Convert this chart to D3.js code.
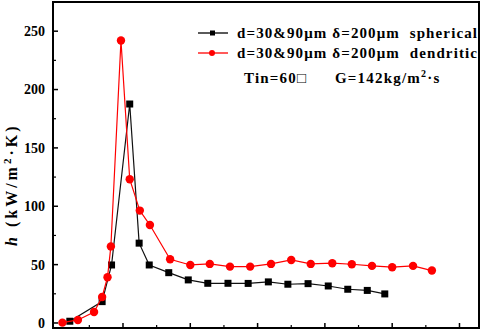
<!DOCTYPE html>
<html>
<head>
<meta charset="utf-8">
<script src="https://cdn.jsdelivr.net/npm/d3@7"></script>
<style>
  body { margin: 0; background: #fff; }
  text { font-family: "Times New Roman", "Liberation Serif", serif; font-weight: bold; }
</style>
</head>
<body>
<svg id="chart" width="484" height="332"></svg>
<script>
// spherical (black squares)
const sphX = [0.21, 0.69, 0.83, 1.10, 1.24, 1.39, 1.68, 1.97, 2.26, 2.56, 2.86, 3.16, 3.45, 3.75, 4.05, 4.34, 4.63, 4.89];
const sphH = [1.5, 18.3, 49.7, 187.6, 68.4, 49.7, 43.1, 36.9, 34.0, 34.0, 33.9, 35.2, 33.2, 33.7, 31.7, 28.9, 27.9, 24.9];

// dendritic (red circles)
const denX = [0.10, 0.33, 0.57, 0.69, 0.77, 0.82, 0.97, 1.10, 1.25, 1.40, 1.70, 2.00, 2.29, 2.59, 2.89, 3.20, 3.50, 3.79, 4.11, 4.40, 4.70, 5.00, 5.31, 5.59];
const denH = [0.3, 2.6, 9.4, 22.3, 39.2, 65.6, 242, 123.2, 96.3, 83.9, 54.6, 49.7, 50.6, 48.3, 48.3, 50.6, 54.0, 50.6, 51.2, 50.3, 48.9, 47.8, 48.9, 44.9];

const yTicks = [0, 50, 100, 150, 200, 250];
const legendLabels = [
  'd=30&90\u03bcm \u03b4=200\u03bcm  spherical',
  'd=30&90\u03bcm \u03b4=200\u03bcm  dendritic'
];

const svg = d3.select('#chart');
const m = { left: 53, right: 479, top: 2, bottom: 328 };

const x = d3.scaleLinear().domain([-0.04, 6.29]).range([m.left, m.right]);
const y = d3.scaleLinear().domain([-4.3, 275]).range([m.bottom, m.top]);

// frame
svg.append('rect')
  .attr('x', m.left).attr('y', m.top)
  .attr('width', m.right - m.left).attr('height', m.bottom - m.top)
  .attr('fill', 'none').attr('stroke', '#000').attr('stroke-width', 2);

// y ticks (inward)
const yAxis = svg.append('g').attr('transform', `translate(${m.left},0)`);
yAxis.selectAll('line.major').data(yTicks).join('line')
  .attr('class', 'major')
  .attr('x1', 0).attr('x2', 5)
  .attr('y1', d => y(d)).attr('y2', d => y(d))
  .attr('stroke', '#000').attr('stroke-width', 1.5);
yAxis.selectAll('line.minor').data(d3.range(25, 275, 50)).join('line')
  .attr('class', 'minor')
  .attr('x1', 0).attr('x2', 3)
  .attr('y1', d => y(d)).attr('y2', d => y(d))
  .attr('stroke', '#000').attr('stroke-width', 1.2);
yAxis.selectAll('text').data(yTicks).join('text')
  .attr('x', -8).attr('y', d => y(d))
  .attr('dy', '0.35em')
  .attr('text-anchor', 'end')
  .attr('font-size', 14)
  .text(d => d);

// x ticks (inward, labels cut off in the source)
const xAxis = svg.append('g').attr('transform', `translate(0,${m.bottom})`);
xAxis.selectAll('line.major').data(d3.range(1, 7)).join('line')
  .attr('class', 'major')
  .attr('x1', d => x(d)).attr('x2', d => x(d))
  .attr('y1', 0).attr('y2', -5)
  .attr('stroke', '#000').attr('stroke-width', 1.5);
xAxis.selectAll('line.minor').data(d3.range(0.5, 6.3, 1)).join('line')
  .attr('class', 'minor')
  .attr('x1', d => x(d)).attr('x2', d => x(d))
  .attr('y1', 0).attr('y2', -3)
  .attr('stroke', '#000').attr('stroke-width', 1.2);

// y label
const yl = svg.append('text')
  .attr('transform', 'translate(17,246) rotate(-90)')
  .attr('text-anchor', 'start')
  .attr('font-size', 16)
  .attr('letter-spacing', 3);
yl.append('tspan').attr('font-style', 'italic').text('h');
yl.append('tspan').text(' (kW/m');
yl.append('tspan').attr('dy', -6).attr('font-size', 11).text('2');
yl.append('tspan').attr('dy', 6).text('\u00b7K)');

const line = d3.line().x(d => x(d[0])).y(d => y(d[1]));

// spherical series
const sph = d3.zip(sphX, sphH);
svg.append('path').datum(sph)
  .attr('d', line).attr('fill', 'none')
  .attr('stroke', '#111').attr('stroke-width', 1.2);
svg.selectAll('rect.sph').data(sph).join('rect')
  .attr('class', 'sph')
  .attr('x', d => x(d[0]) - 3.5).attr('y', d => y(d[1]) - 3.5)
  .attr('width', 7).attr('height', 7)
  .attr('fill', '#000');

// dendritic series
const den = d3.zip(denX, denH);
svg.append('path').datum(den)
  .attr('d', line).attr('fill', 'none')
  .attr('stroke', '#f00').attr('stroke-width', 1.2);
svg.selectAll('circle.den').data(den).join('circle')
  .attr('class', 'den')
  .attr('cx', d => x(d[0])).attr('cy', d => y(d[1]))
  .attr('r', 4.2)
  .attr('fill', '#f00');

// legend
const lg = svg.append('g');
const legendY = [33, 53];
lg.selectAll('line').data(legendY).join('line')
  .attr('x1', 198).attr('x2', 228)
  .attr('y1', d => d).attr('y2', d => d)
  .attr('stroke', (d, i) => i ? '#f00' : '#000').attr('stroke-width', 1.3);
lg.append('rect').attr('x', 210).attr('y', legendY[0] - 2.5)
  .attr('width', 5).attr('height', 5).attr('fill', '#000');
lg.append('circle').attr('cx', 212).attr('cy', legendY[1]).attr('r', 3).attr('fill', '#f00');
lg.selectAll('text.lab').data(legendLabels).join('text')
  .attr('class', 'lab')
  .attr('x', 237).attr('y', (d, i) => legendY[i] + 5)
  .attr('font-size', 15)
  .attr('textLength', 240)
  .attr('lengthAdjust', 'spacing')
  .style('white-space', 'pre')
  .text(d => d);

lg.append('text')
  .attr('x', 244).attr('y', 83)
  .attr('font-size', 15)
  .attr('letter-spacing', 1.2)
  .text('Tin=60\u25a1');
const g2 = lg.append('text')
  .attr('x', 335).attr('y', 83)
  .attr('font-size', 15)
  .attr('letter-spacing', 1.2);
g2.append('tspan').text('G=142kg/m');
g2.append('tspan').attr('dy', -6).attr('font-size', 10).text('2');
g2.append('tspan').attr('dy', 6).text('\u00b7s');
</script>
</body>
</html>
